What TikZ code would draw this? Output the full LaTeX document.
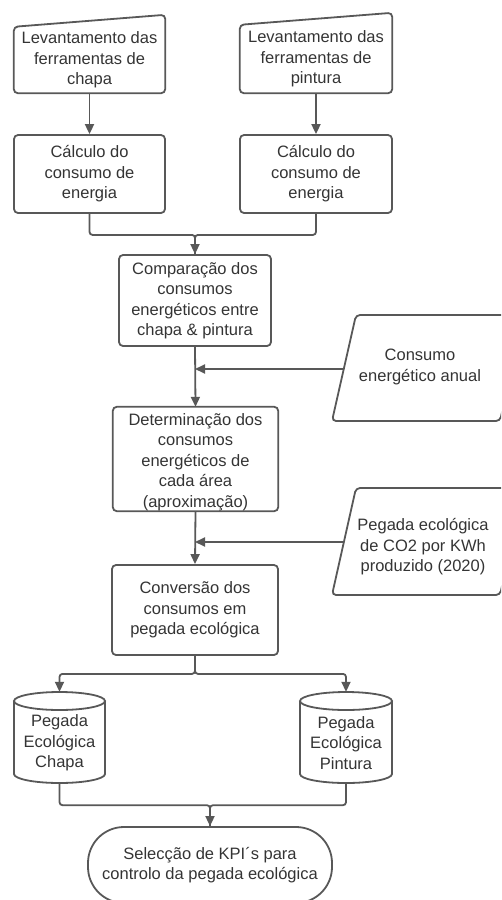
\documentclass[tikz,border=0pt]{standalone}
\usepackage{fontspec}
\setmainfont{Liberation Sans}
\usetikzlibrary{arrows.meta,calc}
\definecolor{lc}{RGB}{88,88,88}
\definecolor{tc}{RGB}{52,52,52}
\begin{document}
\begin{tikzpicture}[x=1pt,y=1pt,
  every node/.style={font=\fontsize{16.5}{20.5}\selectfont, text=tc, align=center, inner sep=0pt},
  shapeline/.style={draw=lc, line width=1.8pt, rounded corners=4pt},
  box/.style={shapeline},
  conn/.style={draw=lc, line width=1.8pt, rounded corners=3pt, -{Triangle[length=10pt,width=9pt]}},
  plain/.style={draw=lc, line width=1.8pt, rounded corners=3pt}
]
\useasboundingbox (0,0) rectangle (501,-900);
\clip (0,0) rectangle (501,-900);

% manual input boxes
\node[minimum width=151pt, minimum height=66pt] (A) at (89.5,-60) {Levantamento das\\ferramentas de\\chapa};
\draw[shapeline] (A.south west) -- (A.north west) -- ([yshift=12pt]A.north east) -- (A.south east) -- cycle;
\node[minimum width=152pt, minimum height=68pt] (B) at (316,-59) {Levantamento das\\ferramentas de\\pintura};
\draw[shapeline] (B.south west) -- (B.north west) -- ([yshift=12pt]B.north east) -- (B.south east) -- cycle;

% process boxes
\node[box, minimum width=151pt, minimum height=78pt] (C) at (89.5,-174) {Cálculo do\\consumo de\\energia};
\node[box, minimum width=152pt, minimum height=78pt] (D) at (316,-174) {Cálculo do\\consumo de\\energia};
\node[box, minimum width=152pt, minimum height=91pt] (E) at (195,-300.5) {Comparação dos\\consumos\\energéticos entre\\chapa \& pintura};
\node[minimum width=165pt, minimum height=104pt] (G) at (195.5,-459) {};
\draw[shapeline] (G.south west) rectangle (G.north east);
\node at (195.5,-462) {Determinação dos\\consumos\\energéticos de\\cada área\\(aproximação)};
\node[box, minimum width=166pt, minimum height=90pt] (I) at (195,-610) {Conversão dos\\consumos em\\pegada ecológica};

% data (parallelograms)
\node (F) at (420,-367) {Consumo\\energético anual};
\draw[shapeline] (332,-421) -- (356,-315) -- (524,-315) -- (500,-421) -- cycle;
\coordinate (Fin) at (344,-369);
\coordinate (EG) at (195,-369);
\node (H) at (423,-547) {Pegada ecológica\\de CO2 por KWh\\produzido (2020)};
\draw[shapeline] (332,-595) -- (356,-488) -- (524,-488) -- (500,-595) -- cycle;
\coordinate (Hin) at (344,-542);
\coordinate (GI) at (195,-542);

% cylinders
\node[minimum width=91pt, minimum height=91pt] (J) at (59.5,-737.5) {};
\draw[draw=lc, line width=1.8pt] (59.5,-701) ellipse [x radius=45.5, y radius=9];
\draw[draw=lc, line width=1.8pt] (14,-701) -- (14,-774) arc[start angle=180, end angle=360, x radius=45.5, y radius=9] -- (105,-701);
\node at (59.5,-743) {Pegada\\Ecológica\\Chapa};
\node[minimum width=92pt, minimum height=91pt] (K) at (346,-737.5) {};
\draw[draw=lc, line width=1.8pt] (346,-701) ellipse [x radius=46, y radius=9];
\draw[draw=lc, line width=1.8pt] (300,-701) -- (300,-774) arc[start angle=180, end angle=360, x radius=46, y radius=9] -- (392,-701);
\node at (346,-743) {Pegada\\Ecológica\\Pintura};

% terminal
\node[draw=lc, line width=1.8pt, rounded corners=36pt, minimum width=244pt, minimum height=76pt] (L) at (210,-865) {Selecção de KPI´s para\\controlo da pegada ecológica};

% connectors
\draw[conn] (A.south) -- (C.north);
\draw[conn] (B.south) -- (D.north);
\draw[plain] (C.south) -- ++(0,-21) -| (E.north);
\draw[conn] (D.south) -- ++(0,-21) -| (E.north);
\draw[conn] (E.south) -- (G.north);
\draw[conn] (Fin) -- (EG);
\draw[conn] (G.south) -- (I.north);
\draw[conn] (Hin) -- (GI);
\draw[conn] (I.south) -- ++(0,-18) -| (J.north);
\draw[conn] (I.south) -- ++(0,-18) -| (K.north);
\draw[plain] (J.south) -- ++(0,-22) -| (L.north);
\draw[conn] (K.south) -- ++(0,-22) -| (L.north);
\end{tikzpicture}
\end{document}
